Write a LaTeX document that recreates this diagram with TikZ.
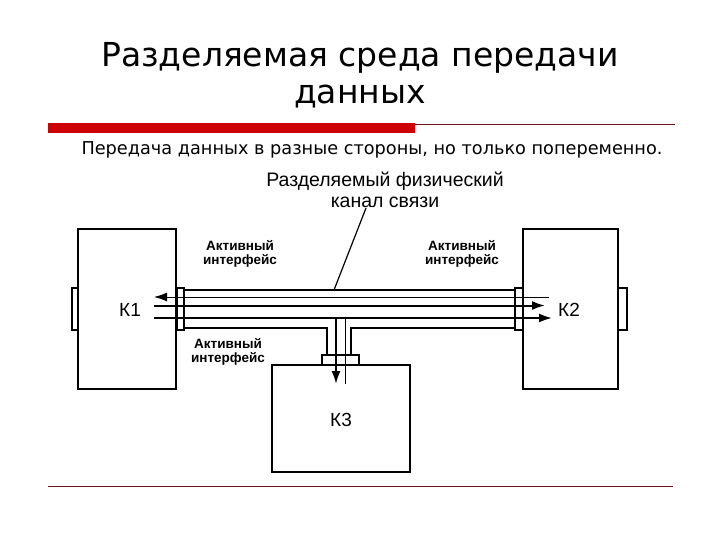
\documentclass[tikz,border=0pt]{standalone}
\usepackage{fontspec}
\usetikzlibrary{arrows.meta}
\setmainfont{DejaVu Sans}
\newfontfamily\arialf{Liberation Sans}
\definecolor{slred}{RGB}{204,0,0}
\definecolor{dkred}{RGB}{110,20,20}
\begin{document}
\begin{tikzpicture}[x=1pt,y=-1pt,
  box/.style={draw,line width=1.5pt,fill=white},
  lbl/.style={font=\arialf\fontsize{13.5}{14}\selectfont\bfseries,align=center},
  kl/.style={font=\arialf\fontsize{19}{19}\selectfont},
  wire/.style={line width=2pt},
  thin/.style={line width=1pt},
  arr/.style={-{Latex[length=13pt,width=9pt]}}]
\useasboundingbox (0,0) rectangle (720,540);
\fill[white] (0,0) rectangle (720,540);
% title
\node (t1) at (360,58) {\fontsize{33}{36}\selectfont Разделяемая среда передачи};
\node (t2) at (360,97) {\fontsize{33}{36}\selectfont данных};
\fill[slred] (48,123) rectangle (415,133);
\draw[dkred,line width=1pt] (415,124.5) -- (675,124.5);
\node[anchor=west] (sub) at (78,150) {\fontsize{17.7}{19}\selectfont Передача данных в разные стороны, но только попеременно.};
\node[align=center,font=\arialf\fontsize{19.5}{21}\selectfont] (ch) at (385,190) {Разделяемый физический\\канал связи};
\draw[dkred,line width=1.2pt] (48,486.5) -- (673,486.5);
% tabs
\draw[box] (72,288) rectangle (79,330);
\draw[box] (617,288) rectangle (627,330);
% boxes
\draw[box] (78,229) rectangle (176,389);
\draw[box] (523,229) rectangle (618,389);
\draw[box] (272,365) rectangle (410,472);
% bus outer
\draw[wire] (184,290) -- (515,290);
\draw[wire] (184,328) -- (327,328) -- (327,355);
\draw[wire] (515,328) -- (351,328) -- (351,355);
% plates
\draw[box] (177,288) rectangle (184,330);
\draw[box] (515,288) rectangle (523,330);
\draw[box] (322,355) rectangle (359,365);
% inner lines
\draw[thin,arr] (549,297) -- (154,297);
\draw[wire,arr] (154,305.5) -- (545,305.5);
\draw[wire,arr] (154,318) -- (552,318);
\draw[wire,arr] (336,318) -- (336,384);
\draw[thin] (345,318) -- (345,384);
% pointer
\coordinate (pt) at (334,290);
\draw[line width=1.2pt] (pt) -- (366,208);
% labels
\node[lbl] (a1) at (240,254) {Активный\\интерфейс};
\node[lbl] (a2) at (462,254) {Активный\\интерфейс};
\node[lbl] (a3) at (228,352) {Активный\\интерфейс};
\node[kl] (k1) at (130,310) {К1};
\node[kl] (k2) at (569,310) {К2};
\node[kl] (k3) at (341,420) {К3};
\end{tikzpicture}
\end{document}
